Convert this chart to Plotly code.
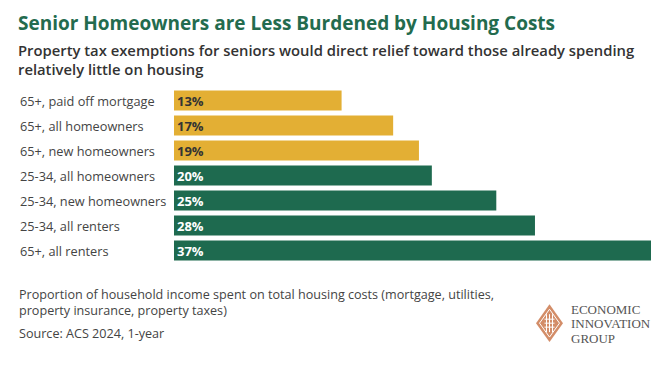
import plotly.graph_objects as go

categories = ["65+, paid off mortgage", "65+, all homeowners", "65+, new homeowners",
              "25-34, all homeowners", "25-34, new homeowners", "25-34, all renters",
              "65+, all renters"]
values = [13, 17, 19, 20, 25, 28, 37]
groups = ["senior_owner", "senior_owner", "senior_owner", "other", "other", "other", "other"]

GOLD = "#E3AF34"
GREEN = "#1E6A4F"
colors = [GOLD if g == "senior_owner" else GREEN for g in groups]
text_colors = ["#333333" if g == "senior_owner" else "#FFFFFF" for g in groups]

W, H = 666, 366
L, R, T, B = 174, 15, 87.5, 102.5
PW, PH = W - L - R, H - T - B

def px(x):
    return (x - L) / PW

def py(y):
    return (H - B - y) / PH

fig = go.Figure(go.Bar(
    y=categories, x=values, orientation="h",
    marker=dict(color=colors, line=dict(width=0)),
    width=0.8,
    text=[f"{v}%" for v in values],
    textposition="inside", insidetextanchor="start",
    constraintext="none",
    textfont=dict(family="Open Sans", size=13, color=text_colors, weight="bold"),
    hoverinfo="skip",
))

fig.update_layout(
    width=W, height=H,
    margin=dict(l=L, r=R, t=T, b=B),
    paper_bgcolor="white", plot_bgcolor="white",
    showlegend=False,
    xaxis=dict(range=[0, 37], visible=False, fixedrange=True),
    yaxis=dict(autorange="reversed", showgrid=False, zeroline=False, showline=False,
               showticklabels=False, ticks=""),
    font=dict(family="Open Sans"),
)

ann = []
for cat in categories:
    ann.append(dict(text=cat, x=px(18), y=cat, xref="paper", yref="y",
                    xanchor="left", yanchor="middle", showarrow=False,
                    font=dict(family="Open Sans", size=12.75, color="#444444")))
ann.append(dict(text="Senior Homeowners are Less Burdened by Housing Costs",
                x=px(16), y=py(22), xref="paper", yref="paper", xanchor="left", yanchor="middle",
                showarrow=False,
                font=dict(family="Open Sans", size=19, color="#236B4E", weight="bold")))
ann.append(dict(text="Property tax exemptions for seniors would direct relief toward those already spending<br>relatively little on housing",
                x=px(16), y=py(59), xref="paper", yref="paper", xanchor="left", yanchor="middle",
                align="left", showarrow=False,
                font=dict(family="Open Sans", size=14.8, color="#333333", weight=600)))
ann.append(dict(text="Proportion of household income spent on total housing costs (mortgage, utilities,<br>property insurance, property taxes)",
                x=px(17), y=py(303), xref="paper", yref="paper", xanchor="left", yanchor="middle",
                align="left", showarrow=False,
                font=dict(family="Open Sans", size=12.6, color="#444444")))
ann.append(dict(text="Source: ACS 2024, 1-year",
                x=px(17), y=py(334), xref="paper", yref="paper", xanchor="left", yanchor="middle",
                align="left", showarrow=False,
                font=dict(family="Open Sans", size=12.6, color="#444444")))
for i, word in enumerate(["ECONOMIC", "INNOVATION", "GROUP"]):
    ann.append(dict(text=word, x=px(569), y=py(310 + 14.5 * i), xref="paper", yref="paper",
                    xanchor="left", yanchor="middle", showarrow=False,
                    font=dict(family="Liberation Serif", size=13, color="#555555")))

# logo diamond
cx, cy, hw, hh = 549.5, 324, 13.5, 19
COPPER = "#D38D68"
shapes = []
shapes.append(dict(type="path", xref="paper", yref="paper",
                   path=f"M {px(cx)},{py(cy-hh)} L {px(cx+hw)},{py(cy)} L {px(cx)},{py(cy+hh)} L {px(cx-hw)},{py(cy)} Z",
                   fillcolor=COPPER, line=dict(width=0)))
ihw, ihh = hw - 3.5, hh - 5
shapes.append(dict(type="path", xref="paper", yref="paper",
                   path=f"M {px(cx)},{py(cy-ihh)} L {px(cx+ihw)},{py(cy)} L {px(cx)},{py(cy+ihh)} L {px(cx-ihw)},{py(cy)} Z",
                   fillcolor="rgba(0,0,0,0)", line=dict(width=1, color="white")))
for dx in (-3, 0, 3):
    shapes.append(dict(type="line", xref="paper", yref="paper",
                       x0=px(cx + dx), x1=px(cx + dx), y0=py(cy - 9), y1=py(cy + 9),
                       line=dict(width=1, color="white")))
for dy in (-4, 0, 4):
    shapes.append(dict(type="line", xref="paper", yref="paper",
                       x0=px(cx - 5), x1=px(cx + 5), y0=py(cy + dy), y1=py(cy + dy),
                       line=dict(width=1, color="white")))

fig.update_layout(annotations=ann, shapes=shapes)
fig.write_html("out.html")
